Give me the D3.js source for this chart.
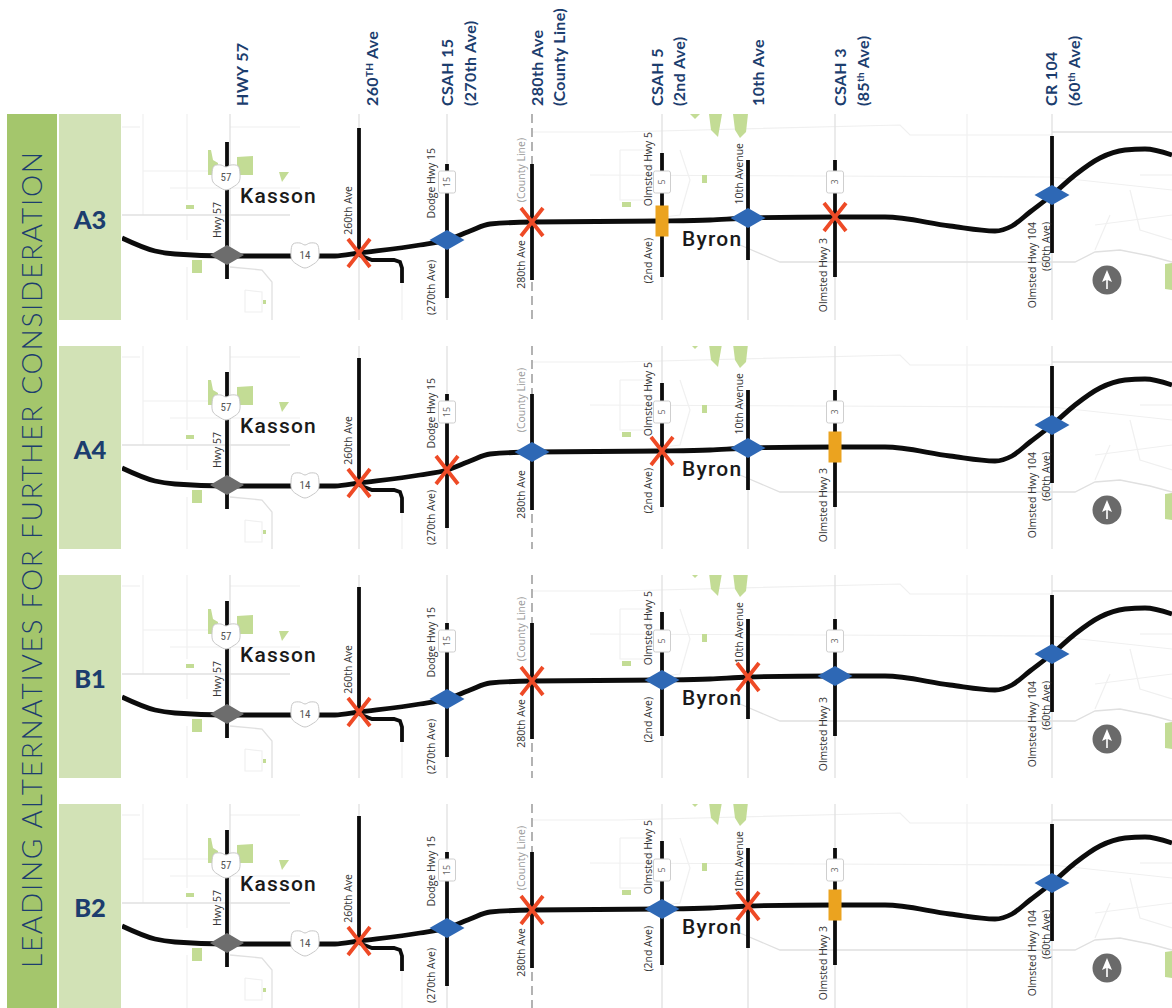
<!DOCTYPE html>
<html><head><meta charset="utf-8">
<script src="https://cdn.jsdelivr.net/npm/d3@7"></script>
<style>html,body{margin:0;background:#fff}svg{display:block}</style></head>
<body><div id="c"></div>
<script>
const pageWidth = 1172, pageHeight = 1008;
const leftTitle = "LEADING ALTERNATIVES FOR FURTHER CONSIDERATION";

// Alternatives
const alternatives = ["A3", "A4", "B1", "B2"];
const panelTop = [114, 346, 575, 804];
const panelBottom = [320, 549, 778, 1008];
const panelShift = [0, 230, 459, 688];

// Crossings, west to east
const crossingKeys = ["HWY 57", "260th", "270th", "280th", "2nd", "10th", "Hwy 3", "60th"];
const crossingX = [227, 359, 447, 532, 662, 748, 835, 1052];
const crossingRoadTop = [142, 128, 164, 164, 153, 160, 160, 136];
const crossingRoadBottom = [279, 253, 298, 280, 277, 260, 277, 253];
const highwayAtCrossing = [255, 253, 240, 222, 221, 218, 217, 195];

// Treatment at each crossing: G grey interchange, B blue interchange, O orange, X closed
const treatmentA3 = ["G", "X", "B", "X", "O", "B", "X", "B"];
const treatmentA4 = ["G", "X", "X", "B", "X", "B", "O", "B"];
const treatmentB1 = ["G", "X", "B", "X", "B", "X", "B", "B"];
const treatmentB2 = ["G", "X", "B", "X", "B", "X", "O", "B"];
const treatments = [treatmentA3, treatmentA4, treatmentB1, treatmentB2];

// Highway 14 centreline and frontage road
const highwayPoints = [[122,238],[155,251],[175,254],[227,256],[300,256],[335,256],[359,253],[420,245],[447,240],[470,231],[490,224],[532,222],[662,221],[710,220],[748,218],[835,217],[885,217],[950,226],[995,231],[1012,226],[1030,212],[1052,195],[1075,175],[1100,158],[1125,150],[1145,149],[1172,155]];
const frontagePoints = [[359,255],[372,260],[394,260],[400,262],[402,268],[402,283]];

// Column headings (lines, superscript suffix)
const headerLines = [
  {x:248, t:"HWY 57"},
  {x:378, t:"260", sup:"TH", rest:" Ave"},
  {x:453, t:"CSAH 15"}, {x:476, t:"(270th Ave)"},
  {x:543, t:"280th Ave"}, {x:565, t:"(County Line)"},
  {x:663, t:"CSAH 5"}, {x:685, t:"(2nd Ave)"},
  {x:764, t:"10th Ave"},
  {x:846, t:"CSAH 3"}, {x:869, t:"(85", sup:"th", rest:" Ave)"},
  {x:1057, t:"CR 104"}, {x:1080, t:"(60", sup:"th", rest:" Ave)"}
];

// Small road labels (label, x baseline, top y)
const roadLabels = [
  ["Hwy 57",221,202,"#333"],["260th Ave",352,186,"#333"],["Dodge Hwy 15",435,148,"#333"],["(270th Ave)",435,260,"#333"],
  ["(County Line)",525,138,"#999"],["280th Ave",525,240,"#333"],["Olmsted Hwy 5",652,132,"#333"],["(2nd Ave)",652,238,"#333"],
  ["10th Avenue",743,143,"#333"],["Olmsted Hwy 3",827,238,"#333"],["Olmsted Hwy 104",1036,222,"#333"],["(60th Ave)",1050,222,"#333"]
];
const townLabels = [["Kasson",240,203],["Byron",682,246]];
const squareShields = [["15",447,182],["5",662,182],["3",835,182]];
const roundShields = [["57",226,177],["14",305,255]];

// Base map
const parks = [
 [[208,150],[211,150],[213,160],[218,163],[218,175],[208,175]],
 [[237,157],[253,156],[253,175],[237,175]],
 [[279,172],[289,172],[282,182]],
 [[186,205],[194,205],[194,209],[186,209]],
 [[192,260],[202,260],[202,273],[192,273]],
 [[263,300],[266,300],[266,304],[263,304]],
 [[690,114],[700,114],[695,119]],
 [[709,114],[722,114],[718,137],[711,130]],
 [[733,114],[748,114],[746,132],[740,138],[735,130]],
 [[702,175],[707,175],[707,183],[702,183]],
 [[622,202],[631,202],[631,207],[622,207]],
 [[1165,264],[1172,263],[1172,290],[1165,289]]
];
const baseRoadsStrong = [
 [[122,215],[290,215]],
 [[740,245],[780,262],[1075,262],[1095,252],[1120,250],[1150,256],[1172,262]],
 [[230,114],[230,250]],[[230,267],[262,270],[272,282],[272,320]],[[359,114],[359,320]],[[447,114],[447,320]],[[662,114],[662,320]],[[748,260],[748,320]],[[835,114],[835,320]],[[1052,114],[1052,320]],
 [[1052,132],[1172,132]]
];
const baseRoadsFaint = [
 [[122,127],[140,127]],[[230,127],[300,127]],[[532,132],[620,132],[900,125],[910,135],[1052,135]],[[590,175],[1052,177]],[[1052,177],[1172,190]],
 [[967,114],[967,320]],[[187,114],[187,200]],[[187,267],[187,320]],[[143,114],[143,215]],[[402,280],[402,320]],
 [[143,171],[210,171]],[[170,188],[300,188]],[[187,215],[187,240]],
 [[620,150],[650,150],[650,200],[620,200],[620,150]],[[680,150],[690,180],[680,215],[640,220]],
 [[1140,175],[1172,175]],[[1130,190],[1140,230],[1172,240]],[[1095,225],[1172,215]],[[1095,250],[1110,215]],
 [[245,290],[262,292],[262,312],[245,312],[245,290]]
];

const W = pageWidth, H = pageHeight;
const svg = d3.select("#c").append("svg").attr("width", W).attr("height", H).style("font-family", "Lato");
const defs = svg.append("defs");
const x = d3.scaleLinear().domain([0, W]).range([0, W]);
const navy = "#1c3d6e";
const blue = "#2e68b5", orange = "#eba31f", red = "#ee4a26", grey = "#6d6d6d";

// Left band
svg.append("rect").attr("x", x(7)).attr("y", 114).attr("width", 50).attr("height", 894).attr("fill", "#a4c66c");
svg.append("text").attr("transform", `translate(42,968) rotate(-90)`)
  .attr("textLength", 816).attr("lengthAdjust", "spacing")
  .attr("fill", navy).style("font-size", "28px").style("font-family", "Lato Light, Lato").style("font-weight", 300).text(leftTitle);

// Headers
headerLines.forEach(h => {
  const t = svg.append("text").attr("transform", `translate(${x(h.x)},106) rotate(-90)`)
    .attr("fill", navy).style("font-size", "16px").style("font-weight", 700).style("letter-spacing", "0.35px");
  t.append("tspan").text(h.t);
  if (h.sup) {
    t.append("tspan").attr("dy", -5).style("font-size", "10px").text(h.sup);
    t.append("tspan").attr("dy", 5).text(h.rest);
  }
});

alternatives.forEach((alt, i) => {
  const top = panelTop[i], bottom = panelBottom[i], dy = panelShift[i];
  const y = d3.scaleLinear().domain([0, H]).range([dy, H + dy]);
  const path = d3.line().x(d => x(d[0])).y(d => y(d[1])).curve(d3.curveMonotoneX);
  const poly = d3.line().x(d => x(d[0])).y(d => y(d[1]));

  svg.append("rect").attr("x", 59).attr("y", top).attr("width", 62).attr("height", bottom - top).attr("fill", "#d2e2b6");
  svg.append("text").attr("x", 90).attr("y", y(228.5)).attr("text-anchor", "middle")
    .attr("fill", navy).style("font-size", "25.5px").style("font-weight", 900).text(alt);

  defs.append("clipPath").attr("id", "clip" + i).append("rect").attr("x", 122).attr("y", top).attr("width", W - 122).attr("height", bottom - top);
  const g = svg.append("g").attr("clip-path", `url(#clip${i})`);

  // Base map
  baseRoadsFaint.forEach(r => g.append("path").attr("d", poly(r)).attr("fill", "none").attr("stroke", "#f0f0f0").attr("stroke-width", 1.2));
  baseRoadsStrong.forEach(r => g.append("path").attr("d", poly(r)).attr("fill", "none").attr("stroke", "#e0e0e0").attr("stroke-width", 1.3));
  g.append("line").attr("x1", x(532)).attr("x2", x(532)).attr("y1", top).attr("y2", bottom)
    .attr("stroke", "#a0a0a0").attr("stroke-width", 1.6).attr("stroke-dasharray", "9 5");
  parks.forEach(p => g.append("path").attr("d", poly(p) + "Z").attr("fill", "#c3dc95"));

  // Crossing roads
  crossingX.forEach((cx, k) => {
    g.append("line").attr("x1", x(cx)).attr("x2", x(cx)).attr("y1", y(crossingRoadTop[k])).attr("y2", y(crossingRoadBottom[k]))
      .attr("stroke", "#0c0c0c").attr("stroke-width", 3.8);
  });
  g.append("path").attr("d", poly(frontagePoints)).attr("fill", "none").attr("stroke", "#0c0c0c").attr("stroke-width", 3.8);
  g.append("path").attr("d", path(highwayPoints)).attr("fill", "none").attr("stroke", "#0c0c0c").attr("stroke-width", 4.8);

  // Shields
  squareShields.forEach(([s, sx, sy]) => {
    g.append("rect").attr("x", x(sx) - 8.5).attr("y", y(sy) - 11).attr("width", 17).attr("height", 22).attr("rx", 2)
      .attr("fill", "#fff").attr("stroke", "#cfcfcf").attr("stroke-width", 1);
    g.append("text").attr("transform", `translate(${x(sx) + 3},${y(sy)}) rotate(-90)`).attr("text-anchor", "middle")
      .attr("fill", "#666").style("font-size", "9px").style("font-family", "Open Sans").text(s);
  });
  roundShields.forEach(([s, sx, sy]) => {
    const shape = d3.line().curve(d3.curveCatmullRomClosed)([[-12,-11],[-5,-12],[0,-10],[5,-12],[12,-11],[14,-3],[13,5],[7,10],[0,13],[-7,10],[-13,5],[-14,-3]]);
    g.append("path").attr("transform", `translate(${x(sx)},${y(sy)})`).attr("d", shape).attr("fill", "#fff").attr("stroke", "#c8c8c8").attr("stroke-width", 1);
    g.append("text").attr("x", x(sx)).attr("y", y(sy) + 4).attr("text-anchor", "middle").attr("fill", "#555")
      .style("font-size", "11px").style("font-family", "Roboto Condensed, Open Sans").text(s);
  });

  // Road labels, towns
  roadLabels.forEach(([s, lx, ly, c]) => {
    g.append("text").attr("transform", `translate(${x(lx)},${y(ly)}) rotate(-90)`).attr("text-anchor", "end")
      .attr("fill", c).style("font-size", "10.5px").style("font-family", "Open Sans").text(s);
  });
  townLabels.forEach(([s, tx, ty]) => {
    g.append("text").attr("x", x(tx)).attr("y", y(ty)).attr("fill", "#1a1a1a")
      .style("font-size", "21px").style("font-family", "Roboto").style("font-weight", 500).style("letter-spacing", "1.2px").text(s);
  });

  // Treatment marks
  treatments[i].forEach((m, k) => {
    const cx = x(crossingX[k]), cy = y(highwayAtCrossing[k]);
    if (m === "G" || m === "B") {
      const rx = m === "G" ? 17 : 17.5, ry = 10;
      g.append("path").attr("d", `M${cx - rx},${cy}L${cx},${cy - ry}L${cx + rx},${cy}L${cx},${cy + ry}Z`).attr("fill", m === "G" ? grey : blue);
    } else if (m === "O") {
      g.append("rect").attr("x", cx - 6.5).attr("y", cy - 15.5).attr("width", 13).attr("height", 31).attr("fill", orange);
    } else {
      g.append("path").attr("d", `M${cx - 11},${cy - 14}L${cx + 11},${cy + 14}M${cx + 11},${cy - 14}L${cx - 11},${cy + 14}`)
        .attr("stroke", red).attr("stroke-width", 3.8).attr("fill", "none");
    }
  });

  // North arrow
  const ax = x(1107), ay = y(280);
  g.append("circle").attr("cx", ax).attr("cy", ay).attr("r", 14.5).attr("fill", "#6a6a6a");
  g.append("path").attr("d", `M${ax},${ay - 10}L${ax + 5},${ay + 2}L${ax + 0.8},${ay}L${ax + 0.8},${ay + 9}L${ax - 0.8},${ay + 9}L${ax - 0.8},${ay}L${ax - 5},${ay + 2}Z`).attr("fill", "#fff");
});
</script></body></html>
